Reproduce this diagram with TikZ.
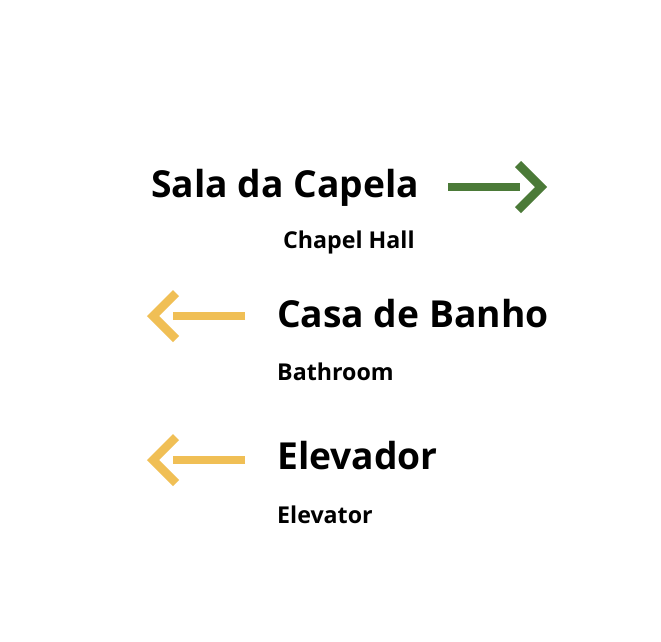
\documentclass[tikz,border=0pt]{standalone}
\usepackage{fontspec}
\setmainfont{Open Sans}
\definecolor{signgreen}{HTML}{4B7A38}
\definecolor{signyellow}{HTML}{F0BF55}
\tikzset{
  big/.style={anchor=base west, inner sep=0pt, font=\fontsize{37.2}{40}\selectfont\bfseries},
  small/.style={anchor=base west, inner sep=0pt, font=\fontsize{23.2}{26}\selectfont\bfseries},
  shaft/.style={line width=8.5pt, line cap=butt},
  chev/.style={line width=8.5pt, line cap=butt, line join=miter},
}
\begin{document}
\begin{tikzpicture}[x=1pt,y=-1pt]
\useasboundingbox[fill=white] (0,0) rectangle (661,641);
% texts
\node[big] (sala) at (151,197) {Sala da Capela};
\node[small] (chapel) at (283,248) {Chapel Hall};
\node[big] (casa) at (277,327) {Casa de Banho};
\node[small] (bath) at (277,380) {Bathroom};
\node[big] (elev) at (277,469) {Elevador};
\node[small] (elevEn) at (277,523) {Elevator};
% green arrow
\coordinate (g1) at (448,187);
\coordinate (g2) at (520,187);
\coordinate (gt) at (541,187);
\coordinate (ga) at (518,164);
\coordinate (gb) at (518,210);
\draw[shaft, signgreen] (g1) -- (g2);
\draw[chev, signgreen] (ga) -- (gt) -- (gb);
% yellow arrow 1
\coordinate (y1) at (245,316);
\coordinate (y2) at (173,316);
\coordinate (yt) at (153,316);
\coordinate (ya) at (176,293);
\coordinate (yb) at (176,339);
\draw[shaft, signyellow] (y1) -- (y2);
\draw[chev, signyellow] (ya) -- (yt) -- (yb);
% yellow arrow 2
\coordinate (z1) at (245,460);
\coordinate (z2) at (173,460);
\coordinate (zt) at (153,460);
\coordinate (za) at (176,437);
\coordinate (zb) at (176,483);
\draw[shaft, signyellow] (z1) -- (z2);
\draw[chev, signyellow] (za) -- (zt) -- (zb);
\end{tikzpicture}
\end{document}
